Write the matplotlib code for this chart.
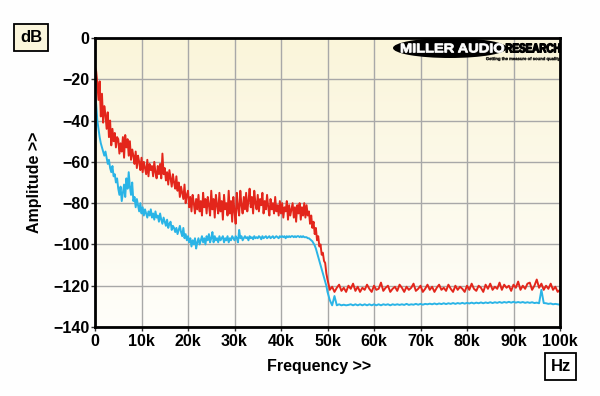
# noise spectrum plot, two traces, Miller Audio Research style

import numpy as np
import matplotlib
matplotlib.use("Agg")
import matplotlib.pyplot as plt
from matplotlib.patches import Ellipse, PathPatch
from matplotlib.textpath import TextPath
from matplotlib.font_manager import FontProperties
from matplotlib.transforms import Affine2D

# bins: 0.25 kHz below 50 kHz, 0.5 kHz from 50 kHz to 100 kHz
low_step_hz = 250
high_step_hz = 500
split_hz = 50000
freq_max_hz = 100000

# red trace (dB), 0 .. 49.75 kHz
red_low_db = [
  -14, -16, -22, -30, -21, -38, -27, -41, -33, -37,
  -44, -36, -48, -40, -52, -44, -50, -46, -53, -48,
  -49, -56, -51, -55, -48, -58, -47, -53, -49, -57,
  -50, -59, -54, -57, -61, -55, -63, -57, -60, -64,
  -58, -65, -60, -63, -66, -59, -67, -61, -64, -62,
  -67, -60, -65, -68, -62, -66, -61, -68, -56, -66,
  -63, -69, -65, -71, -64, -68, -72, -66, -70, -73,
  -67, -74, -70, -77, -72, -75, -78, -71, -80, -76,
  -74, -82, -77, -84, -76, -80, -85, -78, -83, -76,
  -84, -79, -86, -75, -82, -78, -85, -77, -81, -86,
  -74, -83, -78, -87, -76, -81, -85, -75, -84, -79,
  -88, -76, -83, -80, -86, -74, -85, -79, -89, -77,
  -84, -90, -75, -82, -86, -74, -81, -85, -77, -83,
  -75, -84, -79, -73, -82, -77, -85, -74, -80, -83,
  -76, -84, -78, -81, -75, -85, -79, -83, -76, -82,
  -86, -78, -83, -80, -85, -77, -84, -81, -86, -79,
  -85, -80, -87, -82, -84, -79, -88, -81, -86, -83,
  -80, -87, -82, -89, -81, -85, -80, -88, -82, -86,
  -80, -87, -81, -86, -84, -90, -86, -92, -89, -95,
  -92, -98, -96, -101, -100, -105, -104, -108, -109, -114,
]

# red trace (dB), 50 .. 100 kHz
red_high_db = [
  -117, -122, -120.5, -123, -121, -119.5, -122.5, -121, -123, -120,
  -121.5, -119, -122.5, -120.5, -123, -121, -122, -119.5, -121.5, -123,
  -120, -122, -121.5, -118.5, -122.5, -121, -120, -123, -121.5, -120.5,
  -122.5, -119.5, -121, -123, -120.5, -122, -121, -119, -122.5, -121.5,
  -120, -123, -121.5, -119.5, -122, -120.5, -123, -121, -119.5, -122,
  -121, -122.5, -119.5, -121.5, -123, -120, -122, -120.5, -121.5, -123,
  -120, -122, -119, -121.5, -122.5, -120, -121, -123, -119.5, -121.5,
  -119, -122, -120.5, -121.5, -118.5, -122, -119.5, -121, -120, -122.5,
  -119.5, -121, -118, -122, -120, -121.5, -119, -118.5, -122, -120,
  -117, -121, -119, -122, -120, -121.5, -119, -122, -120.5, -123,
  -122,
]

# cyan trace (dB), 0 .. 49.75 kHz
cyan_low_db = [
  -27, -32, -40, -44, -48, -51, -53, -55, -57, -55,
  -58, -61, -59, -63, -65, -62, -67, -66, -70, -68,
  -73, -76, -72, -79, -75, -71, -77, -68, -73, -65,
  -72, -76, -70, -79, -77, -82, -78, -81, -84, -80,
  -85, -82, -86, -83, -85, -87, -84, -86, -83, -87,
  -85, -88, -84, -87, -86, -89, -85, -88, -90, -87,
  -89, -91, -88, -92, -90, -89, -93, -91, -92, -94,
  -92, -95, -93, -91, -94, -96, -92, -97, -95, -98,
  -96, -99, -97, -101, -98, -100, -97, -102, -99, -97,
  -100, -98, -96, -99, -97, -100, -96, -98, -95, -99,
  -97, -94, -99, -96, -98, -97, -99, -96, -98, -97,
  -96, -99, -97, -98, -96, -99, -97, -98, -96, -97,
  -98, -96, -97, -99, -93, -97, -96, -98, -97, -96,
  -97, -96.5, -98, -96, -97, -96.5, -97.5, -96, -97, -96.5,
  -97, -96, -96.5, -97.5, -96, -97, -96.5, -96, -97, -96.5,
  -96, -97, -96.5, -96, -97, -96.5, -96, -96.5, -97, -96,
  -96.5, -96, -96.5, -96, -97, -96, -96.5, -96, -96.5, -96,
  -96, -96.5, -96, -96.5, -96, -96, -96.5, -96, -96.5, -96,
  -96.5, -96.5, -96.5, -97, -97, -97.5, -98, -98.5, -99.5, -100.5,
  -102, -104, -106, -108, -110, -112, -114, -116, -118, -120,
]

# cyan trace (dB), 50 .. 100 kHz
cyan_high_db = [
  -123, -127, -129.5, -125, -129.5, -129, -129.5, -129.2, -129.5, -129.3,
  -129, -129.5, -129, -129.5, -129, -129.5, -129, -129.5, -129, -129.5,
  -129, -129.5, -129, -129.5, -129, -129.3, -129, -129.5, -129, -129.3,
  -129, -129.3, -129, -129.3, -128.8, -129.3, -129, -129.2, -128.8, -129.2,
  -128.8, -129.2, -128.8, -129, -128.7, -129, -128.6, -129, -128.6, -128.9,
  -128.5, -128.9, -128.5, -128.8, -128.4, -128.8, -128.4, -128.7, -128.3, -128.7,
  -128.3, -128.6, -128.2, -128.6, -128.2, -128.5, -128.1, -128.5, -128.1, -128.4,
  -128, -128.4, -128, -128.3, -127.9, -128.3, -127.9, -128.2, -127.8, -128.2,
  -127.8, -128.2, -127.9, -128.2, -127.9, -128.3, -128, -128.3, -128, -128.4,
  -128.2, -128.5, -122, -128.4, -128.5, -128.8, -128.6, -129, -128.8, -129,
  -129.2,
]

x_ticks = [0, 10000, 20000, 30000, 40000, 50000, 60000, 70000, 80000, 90000, 100000]
x_tick_labels = ["0", "10k", "20k", "30k", "40k", "50k", "60k", "70k", "80k", "90k", "100k"]
y_ticks = [0, -20, -40, -60, -80, -100, -120, -140]

red_colour = "#e3261b"
cyan_colour = "#2ab4e6"

H = 396  # figure height in px


def logo_word(fig, s, x0, x1, ytop, ybot, colour, lw=0.4):
  # stretch a bold word to fill a pixel box (top-left origin)
  tp = TextPath((0, 0), s, size=10, prop=FontProperties(family='Liberation Sans', weight='bold'))
  ext = tp.get_extents()
  sx = (x1 - x0) / ext.width
  sy = (ybot - ytop) / ext.height
  tr = Affine2D().translate(-ext.x0, -ext.y0).scale(sx, sy).translate(x0, H - ybot)
  patch = PathPatch(tp, transform=tr, facecolor=colour, edgecolor=colour, linewidth=lw, zorder=11)
  fig.add_artist(patch)


def main():
  plt.rcParams['font.family'] = ['Liberation Sans', 'DejaVu Sans']
  plt.rcParams['font.weight'] = 'bold'

  freqs = np.concatenate([np.arange(0, split_hz, low_step_hz),
                          np.arange(split_hz, freq_max_hz + high_step_hz, high_step_hz)])
  red_db = red_low_db + red_high_db
  cyan_db = cyan_low_db + cyan_high_db

  fig = plt.figure(figsize=(6, 3.96), dpi=100)
  fig.patch.set_facecolor("#fefefe")
  ax = fig.add_axes([95 / 600, 1 - 327 / H, 465 / 600, 289 / H])

  # cream gradient background
  top = np.array([250, 245, 218]) / 255
  bottom = np.array([255, 254, 250]) / 255
  t = np.linspace(0, 1, 256)[:, None]
  grad = (top * (1 - t) + bottom * t)[:, None, :]
  grad = np.repeat(grad, 2, axis=1)
  ax.imshow(grad, extent=[0, 1, 0, 1], transform=ax.transAxes, aspect='auto', zorder=0)

  ax.plot(freqs, cyan_db, color=cyan_colour, linewidth=1.4, zorder=3)
  ax.plot(freqs, red_db, color=red_colour, linewidth=1.4, zorder=4)

  ax.set_xlim(0, freq_max_hz)
  ax.set_ylim(-140, 0)
  ax.set_xticks(x_ticks)
  ax.set_xticklabels(x_tick_labels)
  ax.set_yticks(y_ticks)
  ax.grid(True, color="#a8a8a8", linewidth=1.0, zorder=1)
  ax.set_axisbelow(True)
  ax.tick_params(axis='both', labelsize=11.5, length=3, width=1, color='#333333')
  ax.tick_params(axis='x', pad=2)
  ax.tick_params(axis='y', pad=1)
  for spine in ax.spines.values():
    spine.set_linewidth(2)
    spine.set_color('black')
    spine.set_zorder(6)

  ax.set_xlabel("Frequency >>", fontsize=11.5, fontweight='bold')
  ax.xaxis.set_label_coords((319 - 95) / 465, -(366 - 327) / 289)
  ax.set_ylabel("Amplitude >>", fontsize=11.5, fontweight='bold')
  ax.yaxis.set_label_coords(-(95 - 35) / 465, 0.5)
  ax.xaxis.label.set_va('center')
  ax.yaxis.label.set_va('center')

  # unit boxes
  fig.text(31 / 600, 1 - 37.5 / H, "dB", ha='center', va='center', fontsize=12, fontweight='bold',
           bbox=dict(boxstyle='square,pad=0.35', facecolor='#fbf6dc', edgecolor='black', linewidth=1.3))
  fig.text(560.5 / 600, 1 - 366.5 / H, "Hz", ha='center', va='center', fontsize=12, fontweight='bold',
           bbox=dict(boxstyle='square,pad=0.35', facecolor='white', edgecolor='black', linewidth=1.3))

  # logo
  logo = Ellipse((450 / 600, 1 - 48 / H), 114 / 600, 20 / H, transform=fig.transFigure,
                 facecolor='black', edgecolor='none', zorder=10)
  fig.add_artist(logo)
  logo_word(fig, "MILLER AUDIO", 401, 504, 43.5, 52.5, 'white', lw=0.6)
  logo_word(fig, "RESEARCH", 506, 560, 43.5, 52.5, 'black', lw=0.9)
  logo_word(fig, "Getting the measure of sound quality", 486, 560, 57, 61, 'black', lw=0.2)

  plt.savefig("out.png", dpi=100)


if __name__ == "__main__":
  main()
